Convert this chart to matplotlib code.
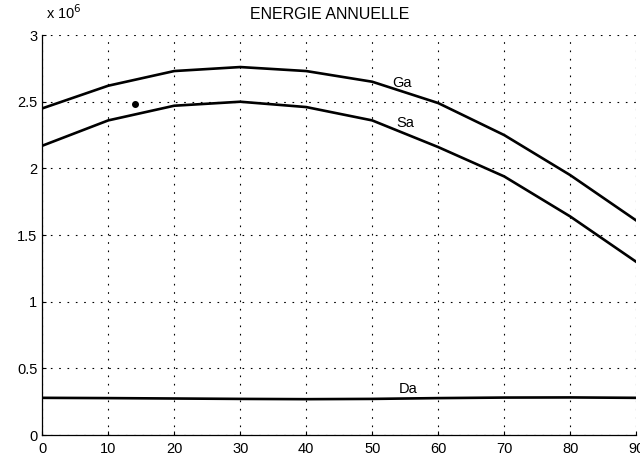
import matplotlib
matplotlib.use("Agg")
import matplotlib.pyplot as plt
import numpy as np

plt.rcParams["font.family"] = ["Liberation Sans", "DejaVu Sans"]

# ── Daten (Werte in 1e6) ──────────────────────────────────────────────────────
angle = [0, 10, 20, 30, 40, 50, 60, 70, 80, 90]
ga = [2.45, 2.62, 2.73, 2.76, 2.73, 2.65, 2.49, 2.25, 1.95, 1.61]
sa = [2.17, 2.36, 2.47, 2.50, 2.46, 2.36, 2.16, 1.94, 1.64, 1.30]
da = [0.280, 0.278, 0.275, 0.272, 0.270, 0.272, 0.278, 0.282, 0.283, 0.280]
dot_x, dot_y = [14], [2.48]
x_ticks = [0, 10, 20, 30, 40, 50, 60, 70, 80, 90]
y_ticks = [0, 0.5, 1, 1.5, 2, 2.5, 3]
y_ticklabels = ["0", "0.5", "1", "1.5", "2", "2.5", "3"]

fig = plt.figure(figsize=(6.4, 4.61), dpi=100)
ax = fig.add_axes([0.066, 0.056, 0.928, 0.868])

scale = 1e6
for ys in (ga, sa, da):
    ax.plot(angle, np.array(ys) * scale, color="black", lw=1.9, solid_joinstyle="round")
ax.plot(dot_x, np.array(dot_y) * scale, "o", color="black", ms=4)

ax.text(54.5, 2.64e6, "Ga", fontsize=10.5, ha="center", va="center")
ax.text(55, 2.34e6, "Sa", fontsize=10.5, ha="center", va="center")
ax.text(55.5, 0.35e6, "Da", fontsize=10.5, ha="center", va="center")

ax.set_xlim(0, 90)
ax.set_ylim(0, 3e6)
ax.set_xticks(x_ticks)
ax.set_yticks(np.array(y_ticks) * scale)
ax.set_yticklabels(y_ticklabels)
ax.tick_params(direction="in", length=3, labelsize=10.5, width=0.8)
ax.tick_params(axis="x", pad=5)

ax.grid(True, color="black", linestyle=(0, (1.5, 6)), linewidth=0.8)
for side in ("top", "right"):
    ax.spines[side].set_visible(False)
for side in ("left", "bottom"):
    ax.spines[side].set_linewidth(0.9)

fig.text(0.072, 0.953, r"x 10$^{6}$", fontsize=10.5, ha="left", va="bottom")
fig.text(0.515, 0.953, "ENERGIE ANNUELLE", fontsize=11.5, ha="center", va="bottom")

fig.savefig("out.png", dpi=100)
